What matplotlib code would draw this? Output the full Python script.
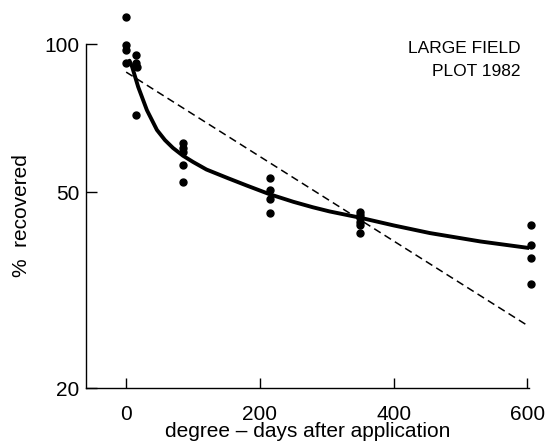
import matplotlib.pyplot as plt
from matplotlib.ticker import FixedLocator, NullLocator

plt.rcParams['font.family'] = ['Liberation Sans', 'DejaVu Sans']

# observed recoveries (degree-days, % recovered)
obs_x = [0, 0, 0, 0, 14, 14, 16, 14,
         85, 85, 85, 85, 85,
         215, 215, 215, 215,
         350, 350, 350, 350, 350, 350,
         605, 605, 605, 605]
obs_y = [113.5, 99.5, 97.2, 91.5, 95.0, 91.5, 89.8, 71.7,
         62.9, 61.5, 60.3, 56.8, 52.4,
         53.4, 50.5, 48.4, 45.3,
         45.6, 44.9, 44.3, 43.4, 42.9, 41.3,
         42.9, 39.0, 36.7, 32.5]

# fitted curve (solid)
fit_x = [5, 9, 18, 31, 46, 58, 70, 85, 100, 120, 152, 180, 215,
         250, 279, 304, 349, 400, 454, 530, 603]
fit_y = [92.5, 89.8, 81.8, 73.4, 66.9, 63.8, 61.5, 59.3, 57.6, 55.6, 53.4, 51.6, 49.5,
         47.8, 46.6, 45.7, 44.4, 42.8, 41.3, 39.7, 38.5]

# single exponential (dashed)
lin_x = [0, 600]
lin_y = [87.7, 26.8]

fig = plt.figure(figsize=(5.48, 4.45), dpi=100)
ax = fig.add_axes([0.157, 0.128, 0.808, 0.773])

ax.plot(fit_x, fit_y, color='black', lw=2.8, solid_capstyle='round',
        solid_joinstyle='round')
ax.plot(lin_x, lin_y, color='black', lw=1.1, ls=(0, (5, 3)))
ax.plot(obs_x, obs_y, 'o', color='black', ms=5, clip_on=False)

ax.set_yscale('log')
ax.set_ylim(20, 100)
ax.set_xlim(-60, 602)
ax.yaxis.set_major_locator(FixedLocator([20, 50, 100]))
ax.yaxis.set_minor_locator(NullLocator())
ax.set_yticklabels(['20', '50', '100'])
ax.set_xticks([0, 200, 400, 600])

for s in ['top', 'right']:
    ax.spines[s].set_visible(False)
ax.spines['left'].set_linewidth(1.0)
ax.spines['bottom'].set_linewidth(1.0)
ax.tick_params(axis='y', direction='in', length=8, width=1.0, labelsize=15, pad=5)
ax.tick_params(axis='x', direction='in', length=7, width=1.0, labelsize=15, pad=12)

ax.set_xlabel('degree \u2013 days after application', fontsize=15, labelpad=-1)
ax.set_ylabel('%  recovered', fontsize=15, labelpad=9)

ax.text(0.982, 1.01, 'LARGE FIELD\nPLOT 1982', transform=ax.transAxes,
        ha='right', va='top', fontsize=12.5, linespacing=1.7)

fig.savefig('out.png', dpi=100)
